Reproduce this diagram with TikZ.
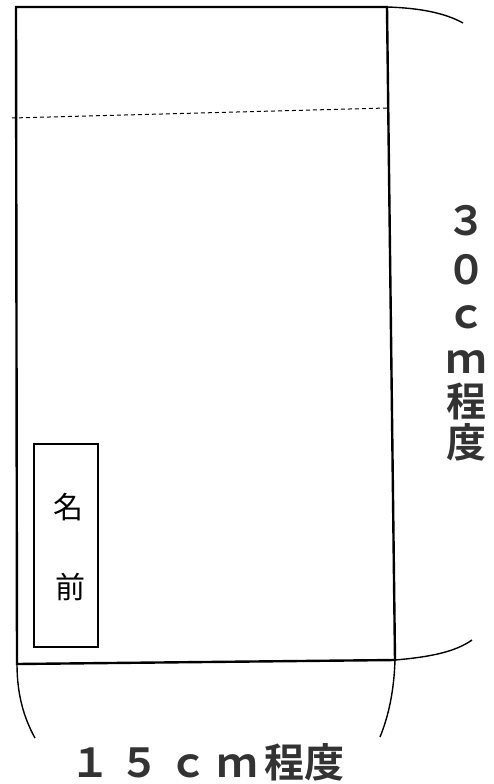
\documentclass[tikz,border=0pt]{standalone}
\usepackage{fontspec}
\newfontfamily\gothic{Noto Sans CJK JP}[BoldFont={Noto Sans CJK JP Bold}]
\usepackage{tikz}
\usetikzlibrary{calc}

\tikzset{
  outline/.style={line width=2.4pt, line join=miter},
  brace/.style={line width=1.4pt},
  foldline/.style={line width=1pt, dash pattern=on 4pt off 3pt},
  sizelabel/.style={font=\gothic\bfseries\fontsize{40}{44}\selectfont, inner sep=0pt, text=black!80},
  namechar/.style={font=\gothic\fontsize{30}{32}\selectfont, inner sep=0pt},
}

\begin{document}
\begin{tikzpicture}[x=1pt, y=-1pt]
                \useasboundingbox (0,0) rectangle (494,784);

                % Bag outline
                \coordinate (tl) at (16,7);
                \coordinate (tr) at (387,7);
                \coordinate (br) at (395,660);
                \coordinate (bl) at (17,664);
                \draw[outline] (tl) -- (tr) -- (br) -- (bl) -- cycle;

                % Fold line
                \coordinate (foldl) at (12,118);
                \coordinate (foldr) at (387,108);
                \draw[foldline] (foldl) -- (foldr);

                % Name box
                \node[draw, line width=2pt, minimum width=64pt, minimum height=203pt, inner sep=0pt] (namebox) at (65.5,545.5) {};
                \node[namechar] (mei) at (68,507) {名};
                \node[namechar] (zen) at (70,587) {前};

                % Height brace
                \coordinate (htop) at (463,23);
                \coordinate (hbot) at (472,640);
                \draw[brace] (tr) .. controls (420,8) and (445,13) .. (htop);
                \draw[brace] (br) .. controls (430,657) and (455,652) .. (hbot);
                \foreach \ch/\y [count=\i] in {３/221, ０/270, ｃ/317, ｍ/362, 程/401, 度/442}
                  \node[sizelabel] (tate\i) at (466,\y) {\ch};

                % Width brace
                \coordinate (wleft) at (35,738);
                \coordinate (wright) at (380,737);
                \draw[brace] (bl) .. controls (17,695) and (24,718) .. (wleft);
                \draw[brace] (br) .. controls (394,690) and (389,715) .. (wright);
                \node[sizelabel, anchor=west] (yoko) at (70,762) {１ ５ ｃ ｍ\,程度};
            \end{tikzpicture}
\end{document}
